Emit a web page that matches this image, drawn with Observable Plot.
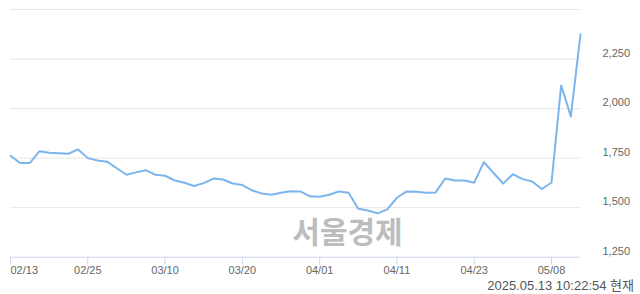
<!DOCTYPE html>
<html>
<head>
<meta charset="utf-8">
<script src="https://cdn.jsdelivr.net/npm/d3@7"></script>
<script src="https://cdn.jsdelivr.net/npm/@observablehq/plot@0.6"></script>
<style>
  html, body { margin: 0; padding: 0; background: #fff; }
  #wrap { position: relative; width: 640px; height: 294px; }
  #chart svg { display: block; }
  #caption {
    position: absolute; right: 6px; top: 278px;
    font-family: 'Liberation Sans', Arial, 'Noto Sans CJK KR', sans-serif;
    font-size: 13px; line-height: 16px; color: #555; white-space: nowrap;
  }
</style>
</head>
<body>
<div id="wrap">
  <div id="chart"></div>
  <div id="caption"></div>
</div>
<script>
// Trading-day closing prices, 2025-02-13 .. 2025-05-13 (index = trading day)
const prices = [
  1762, 1725, 1725, 1785, 1777, 1775, 1772, 1794, 1750, 1738,
  1732, 1699, 1666, 1678, 1689, 1666, 1661, 1637, 1626, 1609,
  1624, 1647, 1642, 1622, 1614, 1587, 1572, 1565, 1575, 1583,
  1582, 1557, 1555, 1565, 1582, 1575, 1494, 1486, 1471, 1491,
  1550, 1582, 1580, 1575, 1577, 1647, 1637, 1637, 1626, 1730,
  1675, 1622, 1669, 1644, 1632, 1594, 1627, 2117, 1960, 2375
];
const xTickIndex = [0, 8, 16, 24, 32, 40, 48, 56];
const xTickLabels = ["02/13", "02/25", "03/10", "03/20", "04/01", "04/11", "04/23", "05/08"];
const yTicks = [1250, 1500, 1750, 2000, 2250];
const yGrid = [1500, 1750, 2000, 2250, 2500];
const watermark = ["서울경제"];
const caption = "2025.05.13 10:22:54 현재";

const data = prices.map((v, i) => ({i, v}));
const labelOf = new Map(xTickIndex.map((t, k) => [t, xTickLabels[k]]));

const font = "'Liberation Sans', Arial, sans-serif";

const chart = Plot.plot({
  width: 640,
  height: 294,
  marginLeft: 10,
  marginRight: 60,
  marginTop: 9,
  marginBottom: 37.3,
  style: {fontFamily: font, fontSize: "11px", background: "#fff"},
  x: {domain: [0, prices.length - 1], label: null},
  y: {domain: [1250, 2500], label: null},
  marks: [
    Plot.ruleY(yGrid, {stroke: "#e6e6e6", strokeWidth: 1}),
    Plot.text(watermark, {
      frameAnchor: "bottom", dx: 52, dy: -23.5, lineAnchor: "middle",
      fill: "#bdbdbd", fontSize: 30, fontWeight: 700,
      fontFamily: "'Noto Sans CJK KR', sans-serif"
    }),
    Plot.ruleY([1250], {stroke: "#ccd6eb", strokeWidth: 1}),
    Plot.axisX([xTickIndex[0]], {
      tickSize: 8, tickPadding: 1, stroke: "#ccd6eb", fill: "#666",
      textAnchor: "start", tickFormat: (d) => labelOf.get(d), fontSize: 11, label: null
    }),
    Plot.axisX(xTickIndex.slice(1), {
      tickSize: 8, tickPadding: 1, stroke: "#ccd6eb", fill: "#666",
      textAnchor: "middle", tickFormat: (d) => labelOf.get(d), fontSize: 11, label: null
    }),
    Plot.axisY(yTicks, {
      anchor: "right", tickSize: 0, tickPadding: 22, textAnchor: "start",
      dy: -6, fill: "#666", fontSize: 11, tickFormat: d3.format(","), label: null
    }),
    Plot.line(data, {
      x: "i", y: "v", stroke: "#7cb5ec", strokeWidth: 2,
      strokeLinejoin: "round", strokeLinecap: "round"
    })
  ]
});
document.getElementById("chart").appendChild(chart);
document.getElementById("caption").textContent = caption;
</script>
</body>
</html>
